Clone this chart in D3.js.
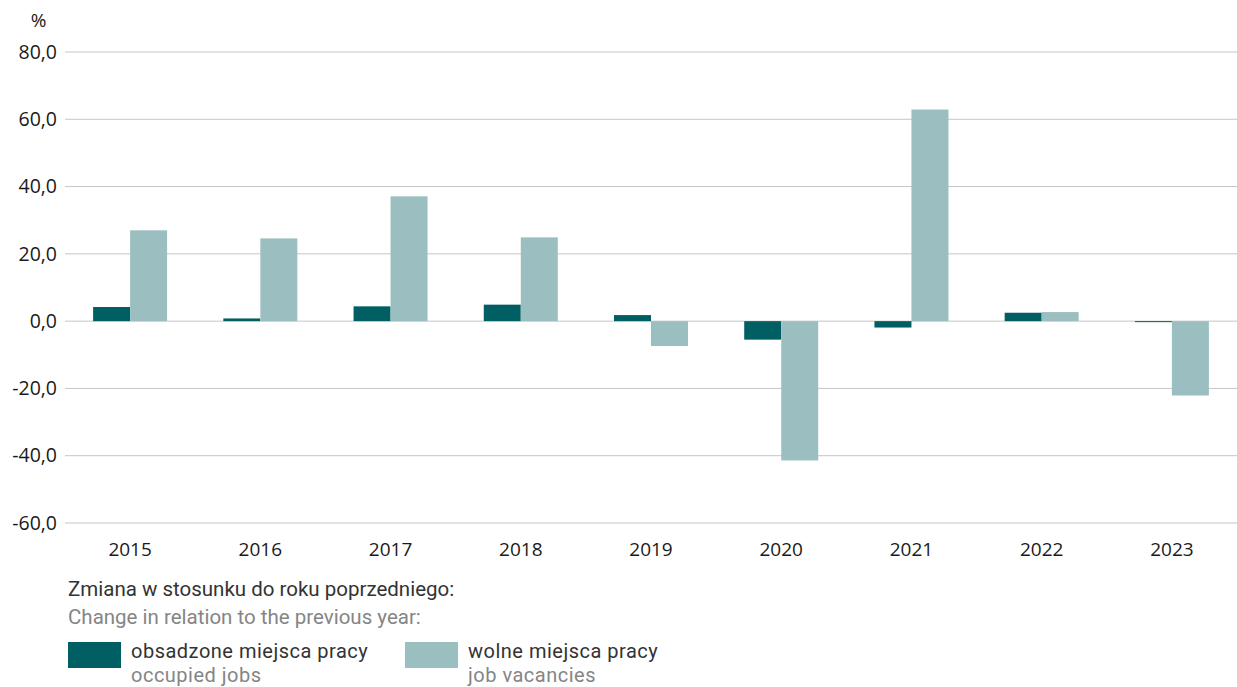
<!DOCTYPE html>
<html><head><meta charset="utf-8">
<script src="https://cdn.jsdelivr.net/npm/d3@7"></script>
<style>body{margin:0;background:#fff;}svg{display:block;}</style>
</head><body>
<svg id="chart" width="1237" height="687"></svg>
<script>
const years = ["2015","2016","2017","2018","2019","2020","2021","2022","2023"];
const occupied = [4.2, 0.8, 4.4, 4.9, 1.8, -5.5, -1.9, 2.5, -0.3];
const vacancies = [27.0, 24.6, 37.1, 24.9, -7.4, -41.4, 62.9, 2.7, -22.1];
const yTicks = [80, 60, 40, 20, 0, -20, -40, -60];
const seriesNames = ["obsadzone miejsca pracy", "wolne miejsca pracy"];
const seriesNamesEn = ["occupied jobs", "job vacancies"];
const colors = ["#005f63", "#9bbfc1"];

(function(){
const svg = d3.select("#chart");
const mLeft = 65, mRight = 1237, mTop = 52, mBottom = 523;
const x = d3.scaleBand().domain(years).range([mLeft, mRight]).paddingInner(0).paddingOuter(0);
const y = d3.scaleLinear().domain([-60, 80]).range([mBottom, mTop]);
const barW = 37;
const fmt = v => (v < 0 ? "-" : "") + Math.abs(v).toFixed(1).replace(".", ",");
const af = "'Open Sans', sans-serif";

svg.append("g").selectAll("line").data(yTicks).join("line")
  .attr("x1", mLeft).attr("x2", mRight)
  .attr("y1", d => y(d)).attr("y2", d => y(d))
  .attr("stroke", "#c6c6c6").attr("stroke-width", 1);

const yAxis = d3.axisLeft(y).tickValues(yTicks).tickFormat(fmt).tickSize(0).tickPadding(8);
const ga = svg.append("g").attr("transform", `translate(${mLeft},0)`).call(yAxis);
ga.select(".domain").remove();
ga.selectAll("text").attr("font-family", af).attr("font-size", 19.5).attr("fill", "#1a1a1a");

svg.append("text").attr("x", 38.5).attr("y", 27).attr("text-anchor", "middle")
  .attr("font-family", af).attr("font-size", 19).attr("fill", "#1a1a1a").text("%");

const data = years.map((yr, i) => ({yr, vals: [occupied[i], vacancies[i]]}));
const groups = svg.append("g").selectAll("g").data(data).join("g");
groups.selectAll("rect").data(d => d.vals.map((v, k) => ({yr: d.yr, v, k}))).join("rect")
  .attr("x", d => x(d.yr) + x.bandwidth() / 2 + (d.k === 0 ? -barW : 0))
  .attr("width", barW)
  .attr("y", d => Math.min(y(d.v), y(0)))
  .attr("height", d => Math.abs(y(d.v) - y(0)))
  .attr("fill", d => colors[d.k]);

const xAxis = d3.axisBottom(x).tickSize(0).tickPadding(14);
const gx = svg.append("g").attr("transform", `translate(0,${mBottom + 6})`).call(xAxis);
gx.select(".domain").remove();
gx.selectAll("text").attr("font-family", af).attr("font-size", 19).attr("fill", "#1a1a1a");

const lf = "'Roboto', sans-serif";
svg.append("text").attr("x", 68).attr("y", 596).attr("font-family", lf).attr("font-size", 20.5)
  .attr("fill", "#333").text("Zmiana w stosunku do roku poprzedniego:");
svg.append("text").attr("x", 68).attr("y", 624).attr("font-family", lf).attr("font-size", 20.5)
  .attr("fill", "#858585").text("Change in relation to the previous year:");
const lx = [68, 405];
seriesNames.forEach((n, i) => {
  svg.append("rect").attr("x", lx[i]).attr("y", 642).attr("width", 53).attr("height", 26).attr("fill", colors[i]);
  svg.append("text").attr("x", lx[i] + 63).attr("y", 658).attr("font-family", lf).attr("font-size", 20)
    .attr("letter-spacing", 0.5).attr("fill", "#333").text(n);
  svg.append("text").attr("x", lx[i] + 63).attr("y", 682).attr("font-family", lf).attr("font-size", 20)
    .attr("letter-spacing", 0.5).attr("fill", "#858585").text(seriesNamesEn[i]);
});
})();
</script>
</body></html>
